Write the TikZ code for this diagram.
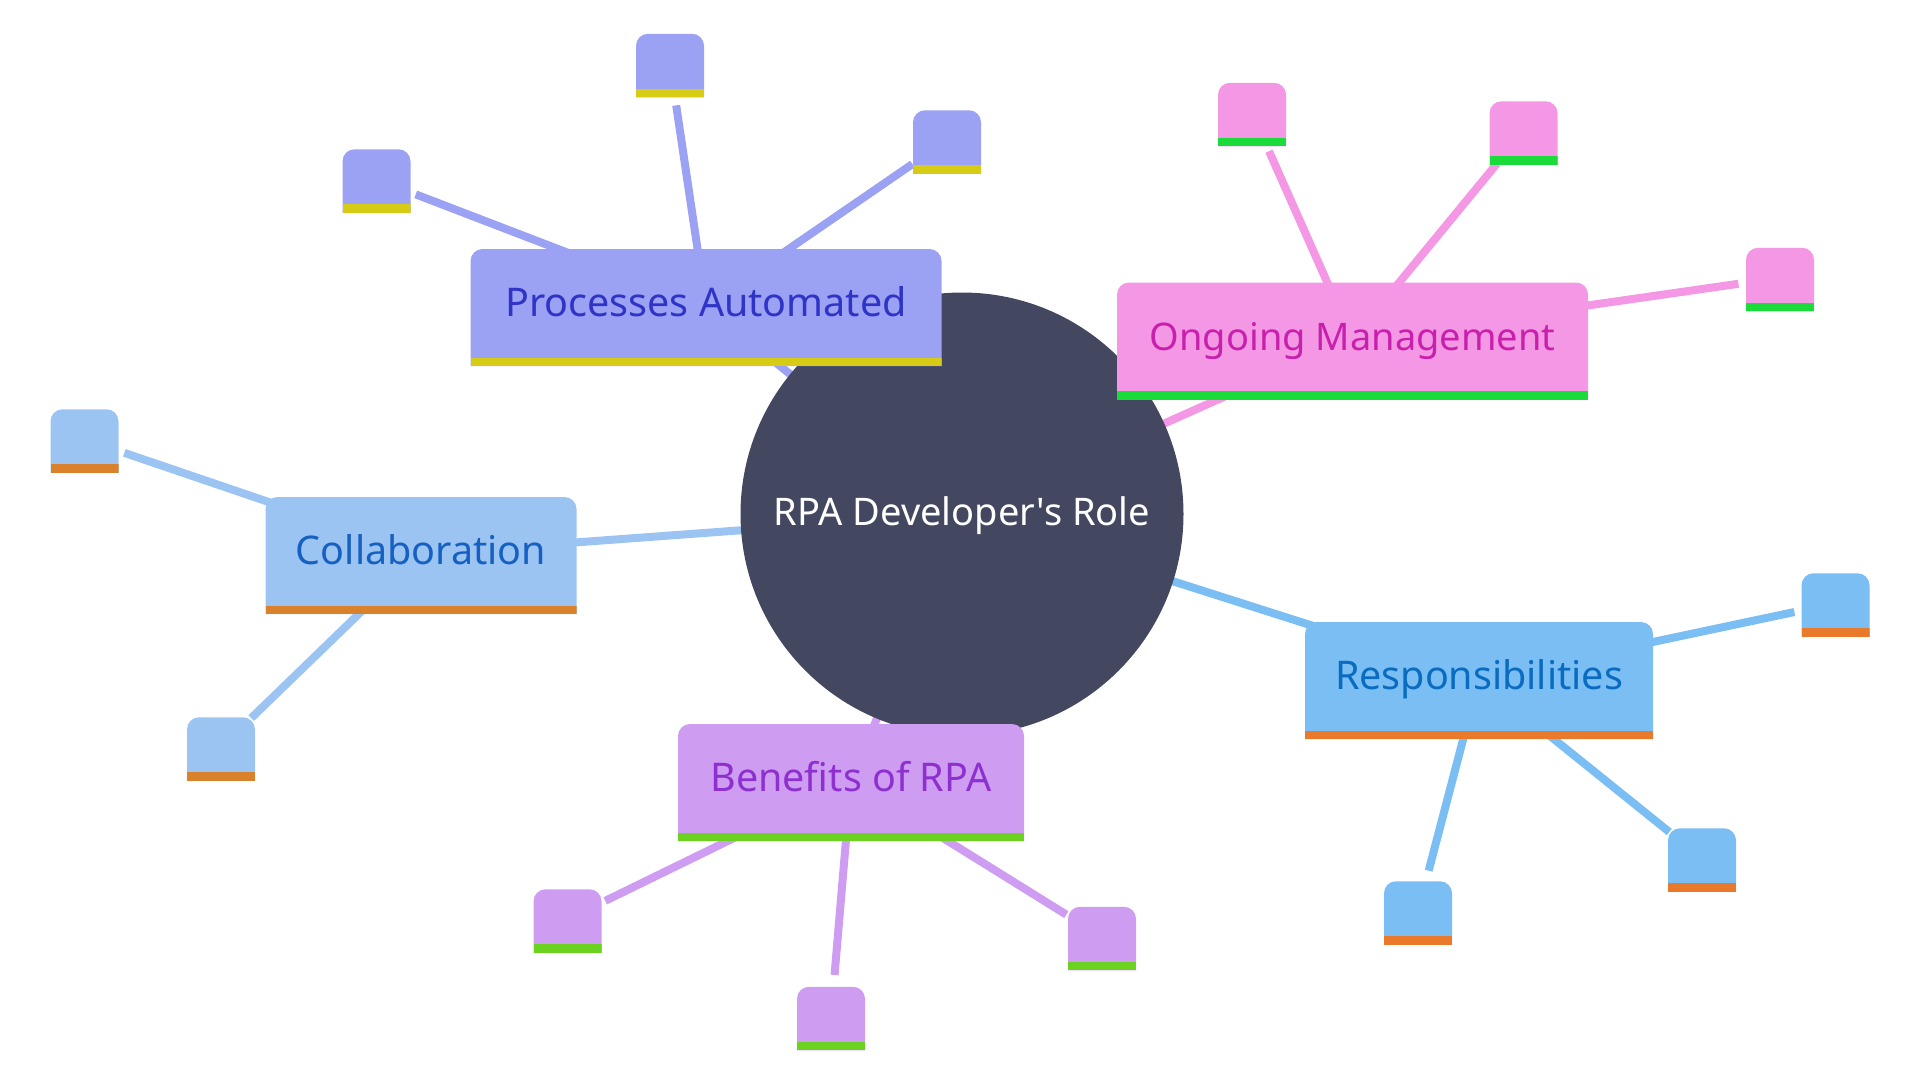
\documentclass[tikz,border=0pt]{standalone}
\usepackage{fontspec}
\setmainfont{Noto Sans}[Ligatures=TeXOff]
\usetikzlibrary{backgrounds,
                calc,
                positioning
                }
\definecolor{hubc}{HTML}{434760}
\definecolor{procf}{HTML}{9BA1F3}
\definecolor{procs}{HTML}{D6CC16}
\definecolor{proct}{HTML}{2F33C6}
\definecolor{ongof}{HTML}{F497E5}
\definecolor{ongos}{HTML}{1BDB3B}
\definecolor{ongot}{HTML}{C91FAD}
\definecolor{benef}{HTML}{CE9DF2}
\definecolor{benes}{HTML}{6BD31F}
\definecolor{benet}{HTML}{8E2FD0}
\definecolor{collf}{HTML}{9CC4F2}
\definecolor{colls}{HTML}{D9822B}
\definecolor{collt}{HTML}{1560C0}
\definecolor{respf}{HTML}{7ABEF3}
\definecolor{resps}{HTML}{EA7A2B}
\definecolor{respt}{HTML}{0A6CC0}

\begin{document}
\begin{tikzpicture}[
x=1pt, y=-1pt,
    BX/.style = {
        rectangle, inner sep=0pt, outer sep=0pt,
        minimum height=117pt,
        text height=30pt, text depth=12pt,
        font=\fontsize{39.5}{42}\selectfont,
        text=#1t,
        path picture={
            \fill[#1f] (path picture bounding box.south west)
                [rounded corners=12pt] -- (path picture bounding box.north west)
                -- (path picture bounding box.north east)
                [sharp corners] -- (path picture bounding box.south east) -- cycle;
            \fill[#1s] (path picture bounding box.south west) rectangle
                ([yshift=8.5pt]path picture bounding box.south east);
                    }
                  },
    LF/.style = {BX=#1, minimum width=68pt, minimum height=63.5pt,
                 text height=0pt, text depth=0pt},
    LK/.style = {line width=8pt, draw=#1f},
    LL/.style = {LK=#1, shorten >=42pt},
                        ]
\useasboundingbox (0,0) rectangle (1920,1080);
\node[circle, fill=hubc, inner sep=0pt, minimum size=443pt, text=white,
      text height=32pt, text depth=8.6pt,
      font=\fontsize{38}{42}\selectfont] (hub) at (962,514) {RPA Developer's Role};
% main branches
\node[BX=proc, minimum width=471pt] (proc) at (706,307.5)  {Processes Automated};
\node[BX=ongo, minimum width=471pt, font=\fontsize{38}{42}\selectfont] (ongo) at (1352.5,341) {Ongoing Management};
\node[BX=coll, minimum width=311pt] (coll) at (421,555.5)  {Collaboration};
\node[BX=resp, minimum width=348pt] (resp) at (1479,680.5) {Responsibilities};
\node[BX=bene, minimum width=346pt] (bene) at (851,782.5)  {Benefits of RPA};
% leaves
\foreach \nm/\cl/\x/\y in {proca/proc/376.5/181, procb/proc/670/65.5, procc/proc/947/142,
                           ongoa/ongo/1252/114.5, ongob/ongo/1523.5/133, ongoc/ongo/1780/279.5,
                           colla/coll/84.5/441, collb/coll/221/749,
                           respa/resp/1835.5/605, respb/resp/1702/860, respc/resp/1418/913,
                           benea/bene/567.5/921, beneb/bene/831/1018.5, benec/bene/1102/938.5}
    \node[LF=\cl] (\nm) at (\x,\y) {};
% connectors
\begin{scope}[on background layer]
\foreach \cl in {proc,ongo,coll,resp,bene}
    \draw[LK=\cl] (hub.center) -- ([yshift=1.7pt]\cl.center);
\foreach \nm/\cl in {proca/proc, procb/proc, procc/proc,
                     ongoa/ongo, ongob/ongo, ongoc/ongo,
                     colla/coll, collb/coll,
                     respa/resp, respb/resp, respc/resp,
                     benea/bene, beneb/bene, benec/bene}
    \draw[LL=\cl] ([yshift=1.7pt]\cl.center) -- ([yshift=1.7pt]\nm.center);
\end{scope}
\end{tikzpicture}
\end{document}
